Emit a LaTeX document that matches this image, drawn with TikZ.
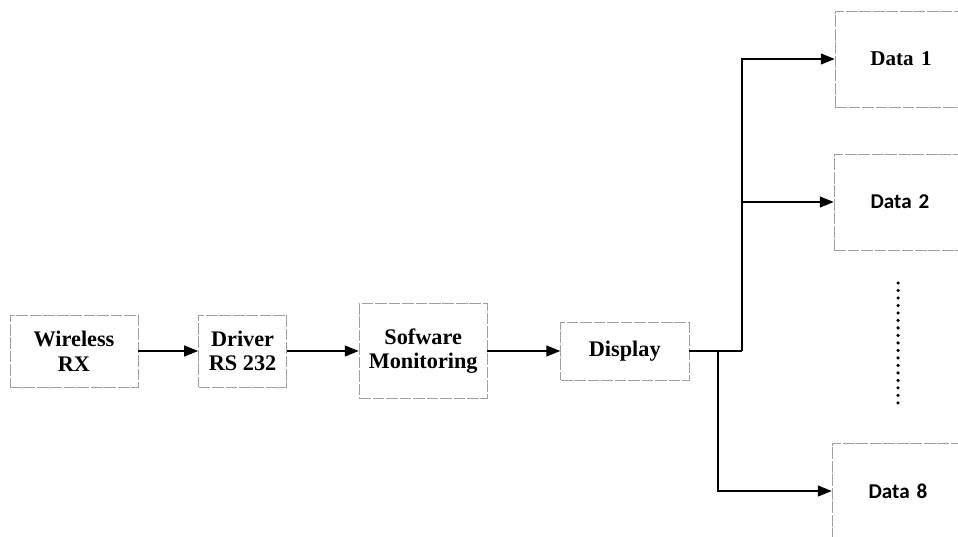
\documentclass[tikz,border=0pt]{standalone}
\usepackage{fontspec}
\setmainfont{Liberation Serif}
\newfontfamily\datafont{Carlito}
\usetikzlibrary{arrows.meta,
positioning}

\begin{document}
\begin{tikzpicture} [x=0.03cm,
    y=-0.03cm,
    >={Triangle[length=12pt, width=9pt]},
    line width=2.1pt,
    every node/.style={font=\bfseries\fontsize{19}{21}\selectfont},
    main node/.style={rectangle, draw=gray!75, line width=.5pt,
        dash pattern=on 10pt off 1.5pt, inner sep=0pt, align=center},
    data node/.style={main node, minimum width=3.95cm, minimum height=2.88cm}]

  \useasboundingbox (0,0) rectangle (958,537);

  \node [main node,
    minimum width = 3.84cm,
    minimum height = 2.16cm
  ] (wrx) at (74, 351) {Wireless\\RX};

  \node [main node,
    minimum width = 2.64cm,
    minimum height = 2.16cm,
    right = 1.8cm of wrx
  ] (drv) {Driver\\RS 232};

  \node [main node,
    minimum width = 3.84cm,
    minimum height = 2.85cm,
    right = 2.16cm of drv
  ] (sfw) {Sofware\\Monitoring};

  \node [main node,
    minimum width = 3.84cm,
    minimum height = 1.74cm,
    right = 2.19cm of sfw
  ] (disp) {Display};

  \node [data node, text width=3.75cm] (data1) at (901, 59) {\fontsize{18}{20}\selectfont Data 1};
  \node [data node, text width=3.75cm, font=\datafont\bfseries\fontsize{18}{20}\selectfont] (data2) at (900, 202) {Data 2};
  \node [data node, text width=3.75cm, font=\datafont\bfseries\fontsize{18}{20}\selectfont] (data8) at (898, 491) {Data 8};

  \draw [->] (wrx) -- (drv);
  \draw [->] (drv) -- (sfw);
  \draw [->] (sfw) -- (disp);

  % branch points on the display output
  \coordinate (bus) at (742, 0 |- disp.east);
  \coordinate (tap) at (718, 0 |- disp.east);

  \draw (disp.east) -- (bus);
  \draw [->] (bus) |- (data1.west);
  \draw [->] (bus) |- (data2.west);
  \draw [->] (tap) |- (data8.west);

  % the boxes between Data 2 and Data 8
  \draw [line width=3pt, line cap=round, dash pattern=on 0pt off 6.4pt]
    (898, 283) -- (898, 404);

\end{tikzpicture}
\end{document}
